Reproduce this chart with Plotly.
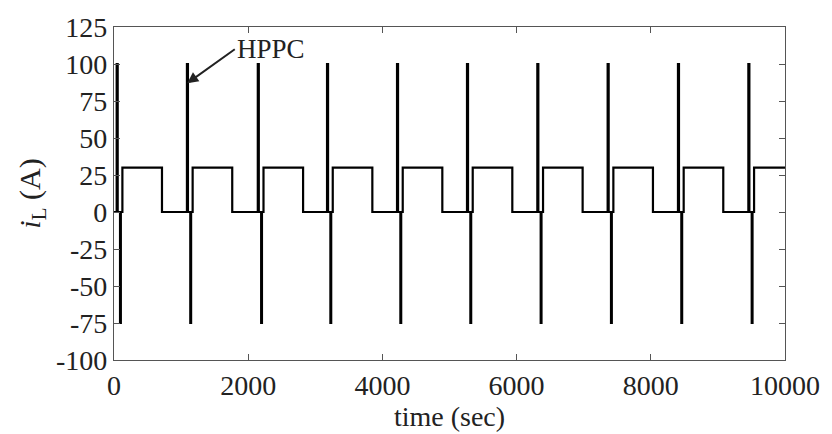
import plotly.graph_objects as go

# Cycle start times (s): start of each HPPC pulse
cycle_starts = [40, 1087, 2143, 3175, 4218, 5261, 6309, 7357, 8405, 9454]
# Profile within one cycle: offsets from cycle start (s) and current level (A)
step_offsets = [0, 15, 50, 62, 85, 675]
step_levels = [100, 0, -75, 0, 30, 0]
t_end = 10000

x_ticks = [0, 2000, 4000, 6000, 8000, 10000]
y_ticks = [-100, -75, -50, -25, 0, 25, 50, 75, 100, 125]

t, i = [0], [0]
for k, T in enumerate(cycle_starts):
    last = k == len(cycle_starts) - 1
    for off, lev in zip(step_offsets, step_levels):
        if last and off == step_offsets[-1]:
            break
        t.append(T + off)
        i.append(lev)
t.append(t_end)
i.append(i[-1])

font = "Liberation Serif, Times New Roman, serif"
txt = "#222222"

fig = go.Figure()
fig.add_trace(go.Scatter(x=t, y=i, mode="lines", line=dict(color="black", width=2.2, shape="hv"),
                         showlegend=False, hoverinfo="skip"))

axis_common = dict(showline=True, linecolor="#555555", linewidth=1.2, mirror="ticks",
                   ticks="inside", ticklen=6, tickcolor="#555555", tickwidth=1.2,
                   showgrid=False, zeroline=False,
                   tickfont=dict(family=font, size=28, color=txt))

fig.update_xaxes(range=[0, 10000], tickvals=x_ticks, ticktext=[str(v) for v in x_ticks],
                 title=dict(text="time (sec)", font=dict(family=font, size=28, color=txt), standoff=2),
                 **axis_common)
fig.update_yaxes(range=[-100, 125], tickvals=y_ticks, ticktext=[str(v) for v in y_ticks],
                 title=dict(text="<i>i</i><sub>L</sub> (A)", font=dict(family=font, size=30, color=txt),
                            standoff=6),
                 **axis_common)

fig.add_annotation(x=1091, y=87, xref="x", yref="y", ax=1800, ay=110, axref="x", ayref="y",
                   text="HPPC", xanchor="left", showarrow=True, arrowhead=2, arrowsize=1.1,
                   arrowwidth=2, arrowcolor=txt, font=dict(family=font, size=27, color=txt))

fig.update_layout(width=832, height=434, margin=dict(l=114, r=40, t=25, b=65),
                  paper_bgcolor="white", plot_bgcolor="white")

fig.write_html("out.html")
